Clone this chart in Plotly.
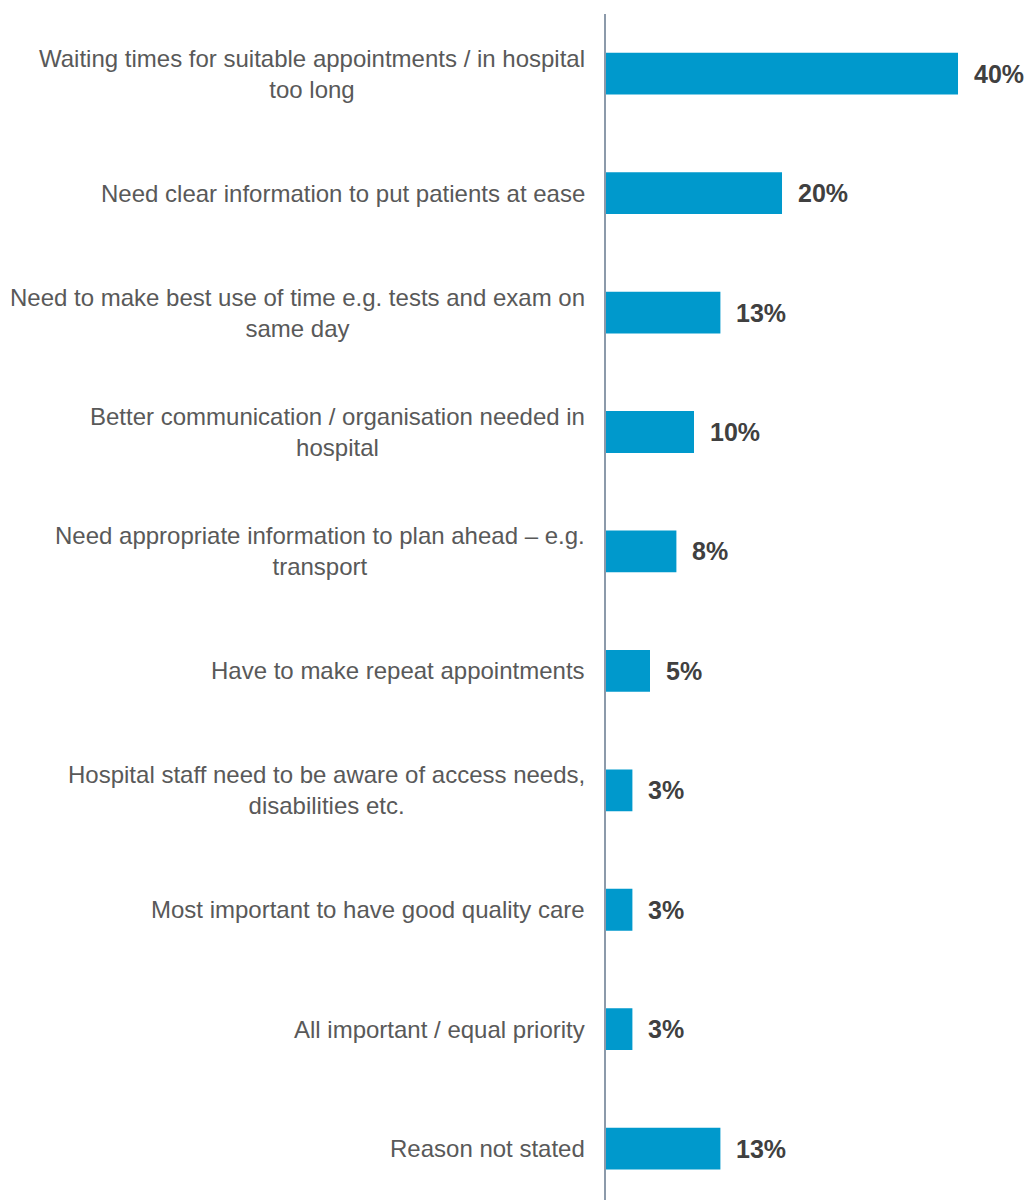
import plotly.graph_objects as go

categories = [
    "Waiting times for suitable appointments / in hospital<br>too long",
    "Need clear information to put patients at ease",
    "Need to make best use of time e.g. tests and exam on<br>same day",
    "Better communication / organisation needed in<br>hospital",
    "Need appropriate information to plan ahead – e.g.<br>transport",
    "Have to make repeat appointments",
    "Hospital staff need to be aware of access needs,<br>disabilities etc.",
    "Most important to have good quality care",
    "All important / equal priority",
    "Reason not stated",
]
values = [40, 20, 13, 10, 8, 5, 3, 3, 3, 13]
value_labels = ["40%", "20%", "13%", "10%", "8%", "5%", "3%", "3%", "3%", "13%"]

FONT = "Liberation Sans, Arial, sans-serif"

fig = go.Figure()
fig.add_trace(go.Bar(
    x=values,
    y=categories,
    orientation="h",
    width=0.35,
    marker=dict(color="#0099CC", line=dict(width=0)),
    hoverinfo="skip",
))

annotations = []
for cat, v, lab in zip(categories, values, value_labels):
    annotations.append(dict(
        x=0, xref="paper", y=cat, yref="y",
        text=cat, showarrow=False, xanchor="right", yanchor="middle",
        align="center", xshift=-19,
        font=dict(family=FONT, size=24, color="#595959"),
    ))
    annotations.append(dict(
        x=v, xref="x", y=cat, yref="y",
        text="<b>" + lab + "</b>", showarrow=False, xanchor="left", yanchor="middle",
        xshift=14,
        font=dict(family=FONT, size=25, color="#404040"),
    ))

fig.update_layout(
    width=1030, height=1200,
    margin=dict(l=606, r=0, t=14, b=0),
    paper_bgcolor="white", plot_bgcolor="white",
    showlegend=False,
    annotations=annotations,
    xaxis=dict(range=[0, 48.18], visible=False, showgrid=False, zeroline=False),
    yaxis=dict(
        range=[9.43, -0.5], showticklabels=False, showgrid=False, zeroline=False,
        showline=True, linecolor="#8C9AAA", linewidth=2, ticks="",
    ),
)

fig.write_html(
    "out.html",
    config={"displayModeBar": False},
    post_script="document.body.style.margin='0';document.body.style.overflow='hidden';",
)
